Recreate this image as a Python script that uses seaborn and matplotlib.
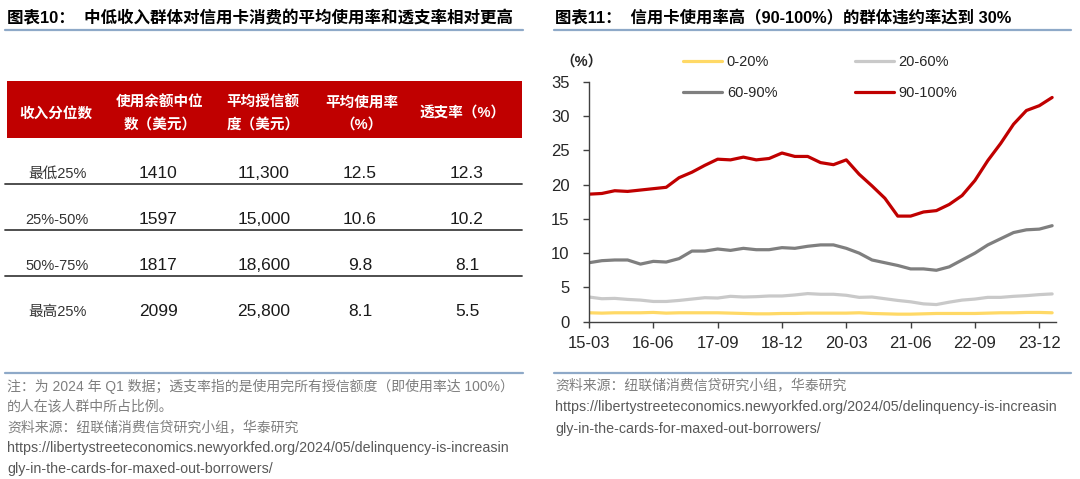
import matplotlib
matplotlib.use("Agg")
import matplotlib.pyplot as plt
import seaborn as sns
import pandas as pd
from matplotlib.lines import Line2D
from matplotlib.patches import Rectangle

# ---- left panel: table data ----
table_header = ["收入分位数", "使用余额中位\n数（美元）", "平均授信额\n度（美元）", "平均使用率\n（%）", "透支率（%）"]
income_groups = ["最低25%", "25%-50%", "50%-75%", "最高25%"]
median_balance = [1410, 1597, 1817, 2099]
credit_limit = [11300, 15000, 18600, 25800]
avg_utilization = [12.5, 10.6, 9.8, 8.1]
maxed_out_share = [12.3, 10.2, 8.1, 5.5]

# ---- right panel: delinquency rate by utilisation group, 2015Q1-2024Q1 ----
quarters = pd.period_range("2015Q1", "2024Q1", freq="Q")
util_0_20 = [1.3, 1.25, 1.3, 1.3, 1.3, 1.35, 1.25, 1.3, 1.3, 1.3, 1.3, 1.25, 1.2,
             1.15, 1.15, 1.2, 1.2, 1.25, 1.25, 1.25, 1.25, 1.3, 1.2, 1.15, 1.1,
             1.1, 1.15, 1.2, 1.2, 1.2, 1.2, 1.25, 1.3, 1.3, 1.35, 1.35, 1.3]
util_20_60 = [3.6, 3.35, 3.4, 3.25, 3.15, 2.95, 2.95, 3.1, 3.3, 3.5, 3.45, 3.7, 3.6,
              3.65, 3.75, 3.75, 3.9, 4.1, 4.0, 4.0, 3.85, 3.55, 3.6, 3.35, 3.1,
              2.9, 2.6, 2.5, 2.85, 3.15, 3.3, 3.55, 3.55, 3.7, 3.8, 3.95, 4.05]
util_60_90 = [8.6, 8.9, 9.0, 9.0, 8.4, 8.8, 8.7, 9.2, 10.3, 10.3, 10.6, 10.4, 10.7,
              10.5, 10.5, 10.8, 10.7, 11.0, 11.2, 11.2, 10.7, 10.0, 9.0, 8.6, 8.2,
              7.7, 7.7, 7.5, 8.0, 9.0, 10.0, 11.2, 12.1, 13.0, 13.4, 13.5, 14.0]
util_90_100 = [18.6, 18.7, 19.1, 19.0, 19.2, 19.4, 19.6, 21.0, 21.8, 22.8, 23.7, 23.6,
               24.0, 23.6, 23.8, 24.6, 24.1, 24.1, 23.2, 22.9, 23.6, 21.5, 19.8, 18.0,
               15.4, 15.4, 16.0, 16.2, 17.1, 18.4, 20.6, 23.5, 26.0, 28.8, 30.8, 31.5, 32.7]
series_names = ["0-20%", "20-60%", "60-90%", "90-100%"]
series_colors = ["#FFD966", "#C9C9C9", "#7F7F7F", "#C00000"]
tick_labels = ["15-03", "16-06", "17-09", "18-12", "20-03", "21-06", "22-09", "23-12"]

sns.set_theme(style="ticks")
plt.rcParams["font.family"] = ["Liberation Sans", "Noto Sans CJK SC", "DejaVu Sans"]

W, H = 1080, 479
fig = plt.figure(figsize=(W / 100, H / 100), dpi=100)


def fx(x):
    return x / W


def fy(y):
    return 1 - y / H


def hline(x0, x1, y, color, lw):
    fig.add_artist(Line2D([fx(x0), fx(x1)], [fy(y), fy(y)], color=color, lw=lw))


title_color = "#000000"
rule_color = "#8EA9C8"
note_grey = "#7F7F7F"
url_grey = "#595959"

# ---- titles ----
fig.text(fx(7), fy(18), "图表10：  中低收入群体对信用卡消费的平均使用率和透支率相对更高",
         fontsize=11.9, fontweight="bold", va="center", ha="left", color=title_color)
hline(5, 523, 30, rule_color, 1.6)
fig.text(fx(555), fy(18), "图表11：  信用卡使用率高（90-100%）的群体违约率达到 30%",
         fontsize=11.8, fontweight="bold", va="center", ha="left", color=title_color)
hline(554, 1071, 30, rule_color, 1.6)

# ---- table ----
fig.add_artist(Rectangle((fx(7), fy(138)), fx(522) - fx(7), fy(81) - fy(138),
                         color="#C00000", lw=0))
head_x = [56, 160, 263, 362, 463]
body_x = [57, 158, 264, 360, 467]
for x, txt in zip(head_x, table_header):
    fig.text(fx(x), fy(114), txt, color="white", fontsize=10.5, fontweight="bold",
             ha="center", va="center", linespacing=1.7)

row_y = [174, 220, 266, 312]
for i, y in enumerate(row_y):
    cells = [income_groups[i], f"{median_balance[i]}", f"{credit_limit[i]:,}",
             f"{avg_utilization[i]:.1f}", f"{maxed_out_share[i]:.1f}"]
    for j, (x, txt) in enumerate(zip(body_x, cells)):
        fig.text(fx(x), fy(y), txt, fontsize=10.5 if j == 0 else 12.5,
                 color="#333333" if j == 0 else "#1a1a1a", ha="center", va="center")
    if i < 3:
        hline(5, 522, y + 10, "#404040", 1.3)

# ---- notes under table ----
hline(5, 523, 373, rule_color, 1.6)
left_notes = [
    ("注：为 2024 年 Q1 数据；透支率指的是使用完所有授信额度（即使用率达 100%）", note_grey, 10),
    ("的人在该人群中所占比例。", note_grey, 10),
    ("资料来源：纽联储消费信贷研究小组，华泰研究", note_grey, 10),
    ("https://libertystreeteconomics.newyorkfed.org/2024/05/delinquency-is-increasin", url_grey, 10.3),
    ("gly-in-the-cards-for-maxed-out-borrowers/", url_grey, 10.3),
]
for k, (txt, c, fs) in enumerate(left_notes):
    fig.text(fx(7), fy(386 + k * 20.7), txt, fontsize=fs, color=c, va="center", ha="left")

hline(554, 1071, 373, rule_color, 1.6)
right_notes = [
    ("资料来源：纽联储消费信贷研究小组，华泰研究", note_grey, 10),
    ("https://libertystreeteconomics.newyorkfed.org/2024/05/delinquency-is-increasin", url_grey, 10.3),
    ("gly-in-the-cards-for-maxed-out-borrowers/", url_grey, 10.3),
]
for k, (txt, c, fs) in enumerate(right_notes):
    fig.text(fx(555), fy(385 + k * 22), txt, fontsize=fs, color=c, va="center", ha="left")

# ---- line chart ----
df = pd.DataFrame({
    "q": list(range(len(quarters))) * 4,
    "rate": util_0_20 + util_20_60 + util_60_90 + util_90_100,
    "group": sum([[n] * len(quarters) for n in series_names], []),
})

ax = fig.add_axes([fx(589), fy(321.7), fx(1056) - fx(589), fy(81.7) - fy(321.7)])
sns.lineplot(data=df, x="q", y="rate", hue="group", hue_order=series_names,
             palette=series_colors, linewidth=2.3, ax=ax)
ax.set_xlim(0, 36.3)
ax.set_ylim(0, 35)
ax.set_yticks(range(0, 36, 5))
ax.set_xticks(range(0, 36, 5))
ax.set_xticklabels(tick_labels)
ax.set_xlabel("")
ax.set_ylabel("")
sns.despine(ax=ax)
for s in ("left", "bottom"):
    ax.spines[s].set_color("#404040")
    ax.spines[s].set_linewidth(1.0)
ax.tick_params(axis="both", direction="out", length=4, width=1.0, color="#404040",
               labelsize=12, labelcolor="#262626")
ax.tick_params(axis="y", pad=10)
ax.tick_params(axis="x", pad=6)

# legend reads row by row in the reference: reorder for matplotlib's column fill
handles, labels = ax.get_legend_handles_labels()
ax.get_legend().remove()
order = [0, 2, 1, 3]
fig.legend([handles[i] for i in order], [labels[i] for i in order], ncol=2,
           loc="upper left", bbox_to_anchor=(fx(683), fy(55)),
           frameon=False, fontsize=10.5, handlelength=2.7, handletextpad=0.3,
           columnspacing=5.3, labelspacing=1.15, borderpad=0, borderaxespad=0)
fig.text(fx(581), fy(62), "（%）", fontsize=10.5, fontweight="bold", ha="center",
         va="center", color="#262626")

fig.savefig("out.png", dpi=100)
